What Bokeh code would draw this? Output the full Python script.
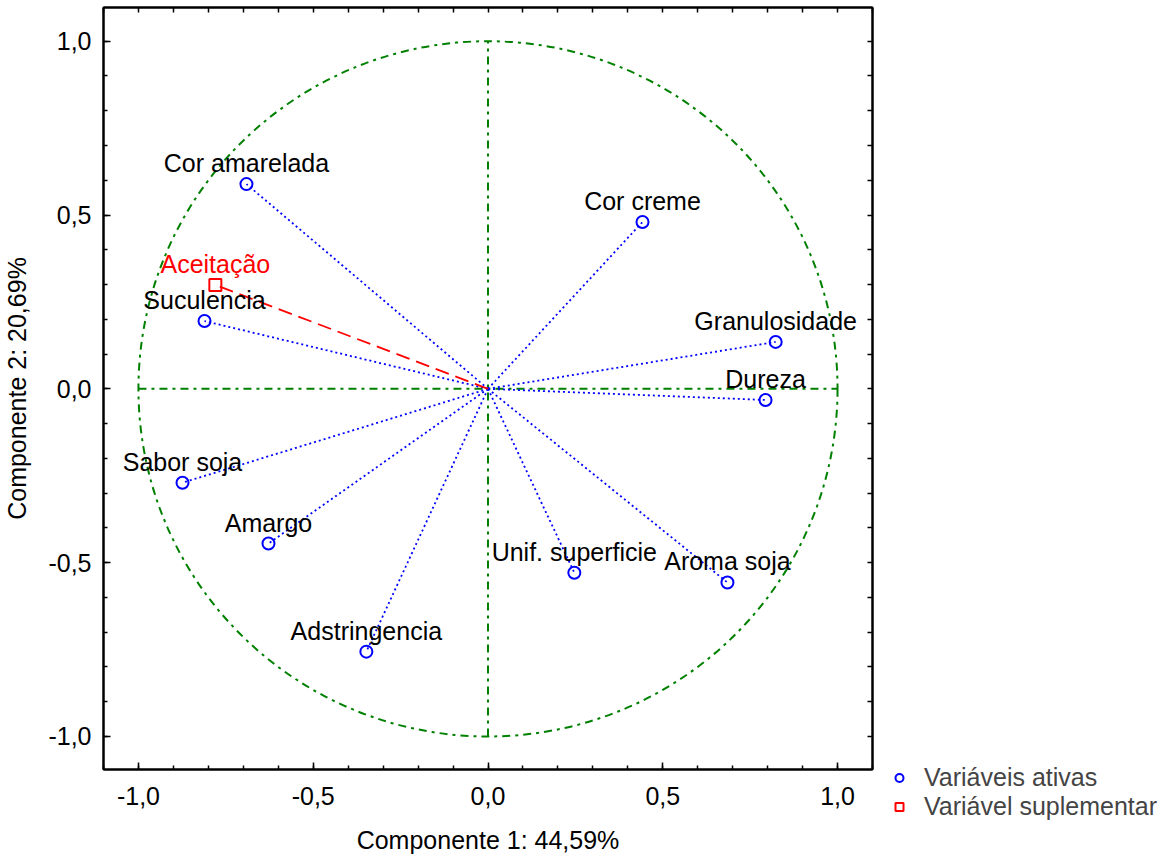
from bokeh.plotting import figure
from bokeh.models import (Range1d, FixedTicker, CustomJSTickFormatter, LinearAxis,
                          Legend, LegendItem, ColumnDataSource)
from bokeh.embed import file_html
from bokeh.resources import INLINE
from bokeh.core.properties import value

# ---- data ----
active_names = ["Cor amarelada", "Cor creme", "Suculencia", "Granulosidade", "Dureza",
                "Sabor soja", "Amargo", "Unif. superficie", "Aroma soja", "Adstringencia"]
active_x = [-0.691, 0.442, -0.811, 0.823, 0.794, -0.874, -0.628, 0.247, 0.685, -0.348]
active_y = [0.589, 0.480, 0.195, 0.135, -0.032, -0.270, -0.445, -0.529, -0.557, -0.756]
supp_names = ["Aceitação"]
supp_x = [-0.780]
supp_y = [0.299]
ticks = [-1.0, -0.5, 0.0, 0.5, 1.0]
minor = [round(-1.1 + 0.1 * i, 1) for i in range(23)]
xlabel = "Componente 1: 44,59%"
ylabel = "Componente 2: 20,69%"
legend_labels = ["Variáveis ativas", "Variável suplementar"]

FONT = "Liberation Sans"
FS = "25px"
GREEN = "#008000"

p = figure(frame_width=769, frame_height=762, output_backend="svg", toolbar_location=None,
           x_range=Range1d(-1.1, 1.1), y_range=Range1d(-1.095, 1.097),
           min_border_left=100, min_border_top=7, min_border_right=280, min_border_bottom=74)
p.grid.visible = False
p.background_fill_color = "white"
p.outline_line_color = "black"
p.outline_line_width = 2

fmt = CustomJSTickFormatter(code="var s = Math.abs(tick) < 1e-9 ? '0,0' : tick.toFixed(1).replace('.', ','); return s;")
for ax in (p.xaxis[0], p.yaxis[0]):
    ax.ticker = FixedTicker(ticks=ticks, minor_ticks=minor)
    ax.formatter = fmt
    ax.major_tick_in = 7
    ax.major_tick_out = 0
    ax.minor_tick_in = 4
    ax.minor_tick_out = 0
    ax.major_tick_line_width = 1.5
    ax.minor_tick_line_width = 1.5
    ax.axis_line_width = 2
    ax.major_label_text_font = FONT
    ax.major_label_text_font_size = FS
    ax.major_label_text_color = "black"
    ax.axis_label_text_font = FONT
    ax.axis_label_text_font_size = FS
    ax.axis_label_text_font_style = "normal"
    ax.axis_label_text_color = "black"
p.xaxis[0].axis_label = xlabel
p.yaxis[0].axis_label = ylabel
p.xaxis[0].major_label_standoff = 17
p.yaxis[0].major_label_standoff = 12
p.xaxis[0].axis_label_standoff = 18
p.yaxis[0].axis_label_standoff = 14

for loc in ("right", "above"):
    ax = LinearAxis(ticker=FixedTicker(ticks=[], minor_ticks=minor))
    ax.minor_tick_in = 5
    ax.minor_tick_out = 0
    ax.minor_tick_line_width = 1.5
    ax.axis_line_width = 2
    ax.major_label_text_font_size = "0px"
    ax.major_label_standoff = 0
    p.add_layout(ax, loc)

# unit circle and axes lines
p.ellipse(x=[0], y=[0], width=[2], height=[2], fill_color=None, line_color=GREEN,
          line_width=2, line_dash="8 5 3 5")
p.segment(x0=[-1, 0], y0=[0, -1], x1=[1, 0], y1=[0, 1], line_color=GREEN,
          line_width=2, line_dash="8 5 3 5")

# vectors
src_a = ColumnDataSource(dict(x=active_x, y=active_y, name=active_names,
                              x0=[0] * len(active_x), y0=[0] * len(active_y)))
src_s = ColumnDataSource(dict(x=supp_x, y=supp_y, name=supp_names,
                              x0=[0] * len(supp_x), y0=[0] * len(supp_y)))
p.segment(x0="x0", y0="y0", x1="x", y1="y", source=src_a, line_color="blue",
          line_width=1.8, line_dash="2 3")
p.segment(x0="x0", y0="y0", x1="x", y1="y", source=src_s, line_color="red",
          line_width=1.8, line_dash="14 7")

ra = p.scatter(x="x", y="y", source=src_a, marker="circle", size=12, fill_color=None,
               line_color="blue", line_width=2)
rs = p.scatter(x="x", y="y", source=src_s, marker="square", size=12, fill_color=None,
               line_color="red", line_width=2)

p.text(x="x", y="y", text="name", source=src_a, text_align="center",
       text_baseline="alphabetic", y_offset=-21, text_font=value(FONT),
       text_font_size=FS, text_color="black")
p.text(x="x", y="y", text="name", source=src_s, text_align="center",
       text_baseline="alphabetic", y_offset=-21, text_font=value(FONT),
       text_font_size=FS, text_color="red")

legend = Legend(items=[LegendItem(label=legend_labels[0], renderers=[ra]),
                       LegendItem(label=legend_labels[1], renderers=[rs])],
                location=(-223, -52), padding=0, margin=0, spacing=0,
                glyph_width=20, glyph_height=25, label_standoff=15,
                label_text_font=FONT, label_text_font_size=FS,
                border_line_color=None, background_fill_alpha=0)
p.add_layout(legend, "right")

open("out.html", "w").write(file_html(p, INLINE))
